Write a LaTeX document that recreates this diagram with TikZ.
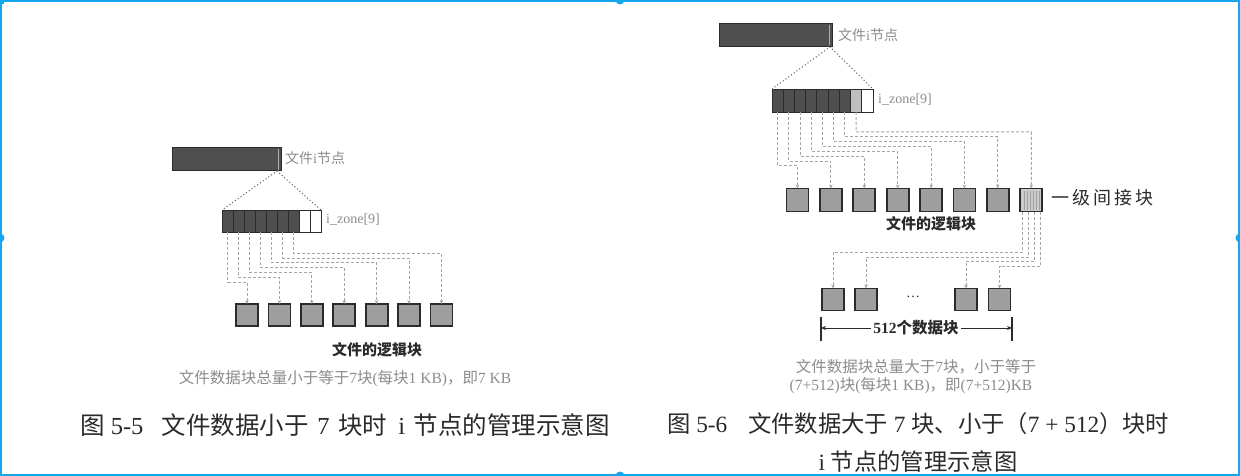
\documentclass[tikz,border=0pt]{standalone}
\usepackage{fontspec}
\setmainfont{Liberation Serif}
\newfontfamily\cjk{Noto Sans CJK SC}
\usetikzlibrary{arrows.meta,calc}
\definecolor{frameblue}{RGB}{22,166,240}
\definecolor{darkfill}{HTML}{4F4F4F}
\definecolor{edgec}{HTML}{2B2B2B}
\definecolor{blockfill}{HTML}{9E9E9E}
\definecolor{lighttext}{HTML}{8C8C8C}
\definecolor{linegray}{HTML}{A6A6A6}
\definecolor{captext}{HTML}{2A2A2A}
\newcommand\zh[1]{{\cjk #1}}
\newcommand\zhb[1]{{\cjk\bfseries #1}}
\newcommand\fs[1]{\fontsize{#1}{#1}\selectfont}
\begin{document}
\begin{tikzpicture}[x=1pt,y=-1pt,
 inode/.style={draw=edgec, fill=darkfill, line width=1pt, minimum width=109pt, minimum height=23pt, inner sep=0pt, outer sep=0pt},
 dcell/.style={draw=edgec, fill=darkfill, line width=0.8pt, minimum width=11pt, minimum height=22pt, inner sep=0pt, outer sep=0pt},
 wcell/.style={dcell, fill=white},
 gcell/.style={dcell, fill=gray!50},
 blk/.style={draw=edgec, fill=blockfill, line width=1.8pt, minimum width=22pt, minimum height=22pt, inner sep=0pt, outer sep=0pt},
 ibk/.style={blk, fill=gray!40},
 dl/.style={draw=linegray, line width=1pt, dash pattern=on 3pt off 2pt, -{Stealth[length=4pt,width=3.5pt]}},
 dotl/.style={draw=gray!80!black, line width=1.5pt, dash pattern=on 0pt off 3.4pt, line cap=round},
 lbl/.style={text=lighttext, inner sep=0pt, anchor=west},
 note/.style={text=lighttext, inner sep=0pt},
 captxt/.style={text=captext, inner sep=0pt}]
\useasboundingbox (0,0) rectangle (1240,476);
\fill[white] (0,0) rectangle (1240,476);

% ===== left figure =====
\node[inode] (LI) at (226.5,159.5) {};
\draw[gray!65, line width=1pt] (278,149) -- (278,170);
\node[lbl, font=\fs{14}] (LIlab) at (285,158) {\zh{文件}i\zh{节点}};
\foreach \i in {0,...,6} \node[dcell] (LZ\i) at ({227.5+11*\i},221) {};
\node[wcell] (LZ7) at (304.5,221) {};
\node[wcell] (LZ8) at (315.5,221) {};
\node[lbl, font=\fs{14}] (LZlab) at (326,220) {i\_zone[9]};
\coordinate (LIc) at (277,171);
\draw[dotl] (LIc) -- (LZ0.north west);
\draw[dotl] (LIc) -- (LZ8.north east);
\foreach \i in {0,...,6} {
  \node[blk] (LB\i) at ({247+32.4*\i},315) {};
  \coordinate (LL\i) at ({247+32.4*\i},{282-4.8*\i});
  \draw[dl] (LZ\i.south) |- (LL\i) -- (LB\i.north);
}
\node[captxt, font=\fs{15}] (LLog) at (377,350) {\zhb{文件的逻辑块}};
\node[note, font=\fs{15.5}] (LNote) at (345,379) {\zh{文件数据块总量小于等于}7\zh{块}(\zh{每块}1 KB)\zh{，即}7 KB};
\node[captxt, font=\fs{24.5}, anchor=west] (LCap) at (80,425) {\zh{图} 5-5\hspace{0.75em}\zh{文件数据小于}\hspace{0.35em}7\hspace{0.35em}\zh{块时}\hspace{0.45em}i\hspace{0.35em}\zh{节点的管理示意图}};

% ===== right figure =====
\node[inode, minimum width=113pt] (RI) at (775.5,35) {};
\draw[gray!65, line width=1pt] (829,25) -- (829,45);
\node[lbl, font=\fs{14}] (RIlab) at (838,35) {\zh{文件}i\zh{节点}};
\foreach \i in {0,...,6} \node[dcell, minimum width=11.22pt, minimum height=23pt] (RZ\i) at ({777.6+11.22*\i},100.5) {};
\node[gcell, minimum width=11.22pt, minimum height=23pt] (RZ7) at (856.1,100.5) {};
\node[wcell, minimum width=11.22pt, minimum height=23pt] (RZ8) at (867.4,100.5) {};
\node[lbl, font=\fs{14}] (RZlab) at (878,100) {i\_zone[9]};
\coordinate (RIc) at (830,47);
\draw[dotl] (RIc) -- (RZ0.north west);
\draw[dotl] (RIc) -- (RZ8.north east);
\foreach \i in {0,...,6} \node[blk, minimum height=23pt] (RB\i) at ({797.5+33.4*\i},200) {};
\node[ibk, minimum height=23pt] (RB7) at (1031.3,200) {};
\foreach \s in {-7,-4,...,8} \draw[gray!75, line width=0.6pt] ($(RB7.north)+(\s,2)$) -- ($(RB7.south)+(\s,-2)$);
\foreach \i in {0,...,7} {
  \coordinate (RL\i) at ({797.5+33.4*\i},{166-4.86*\i});
  \draw[dl] (RZ\i.south) |- (RL\i) -- (RB\i.north);
}
\node[captxt, font=\fs{18}, anchor=west] (RIBlab) at (1051,198) {\zh{一\hspace{3pt}级\hspace{3pt}间\hspace{3pt}接\hspace{3pt}块}};
\node[captxt, font=\fs{15}] (RLog) at (931,224) {\zhb{文件的逻辑块}};

% data blocks
\node[blk] (RD0) at (833,299.5) {};
\node[blk] (RD1) at (866,299.5) {};
\node[blk] (RD2) at (966,299.5) {};
\node[blk] (RD3) at (999.5,299.5) {};
\node[captxt, font=\fs{14}] (Rdots) at (913,297) {\dots};
\coordinate (RM0) at (833,252);
\coordinate (RM1) at (866,257);
\coordinate (RM2) at (966,261);
\coordinate (RM3) at (999.5,266);
\draw[dl] ([xshift=-9pt]RB7.south) |- (RM0) -- (RD0.north);
\draw[dl] ([xshift=-3pt]RB7.south) |- (RM1) -- (RD1.north);
\draw[dl] ([xshift=3.5pt]RB7.south) |- (RM2) -- (RD2.north);
\draw[dl] ([xshift=9.5pt]RB7.south) |- (RM3) -- (RD3.north);

% dimension
\node[captxt, font=\fs{15.5}, inner sep=2pt] (Rdim) at (916,328) {\textbf{512}\zhb{个数据块}};
\coordinate (DL) at (821,328);
\coordinate (DR) at (1012,328);
\coordinate (DLt) at (821,317);
\coordinate (DLb) at (821,341);
\coordinate (DRt) at (1012,317);
\coordinate (DRb) at (1012,341);
\draw[edgec, line width=1.2pt] (DLt) -- (DLb);
\draw[edgec, line width=1.2pt] (DRt) -- (DRb);
\draw[edgec, line width=1pt, -{Stealth[length=5pt,width=4pt]}] (Rdim.west) -- (DL);
\draw[edgec, line width=1pt, -{Stealth[length=5pt,width=4pt]}] (Rdim.east) -- (DR);

\node[note, font=\fs{15.5}] (RNote1) at (916,367) {\zh{文件数据块总量大于}7\zh{块，小于等于}};
\node[note, font=\fs{15.5}] (RNote2) at (911,386) {(7+512)\zh{块}(\zh{每块}1 KB)\zh{，即}(7+512)KB};
\node[captxt, font=\fs{23.3}, anchor=west] (RCap1) at (667,424) {\zh{图} 5-6\hspace{0.9em}\zh{文件数据大于} 7 \zh{块、小于（}7 + 512\zh{）块时}};
\node[captxt, font=\fs{23.3}] (RCap2) at (918,462) {i \zh{节点的管理示意图}};

% ===== selection frame =====
\draw[frameblue, line width=2pt] (1,1) rectangle (1239,475);
\fill[frameblue] (620,0) circle (4.5pt);
\fill[frameblue] (620,476) circle (4.5pt);
\fill[frameblue] (0,238) circle (4.5pt);
\fill[frameblue] (1240,238) circle (4.5pt);
\fill[frameblue] (0,0) rectangle (4,4);
\end{tikzpicture}
\end{document}
